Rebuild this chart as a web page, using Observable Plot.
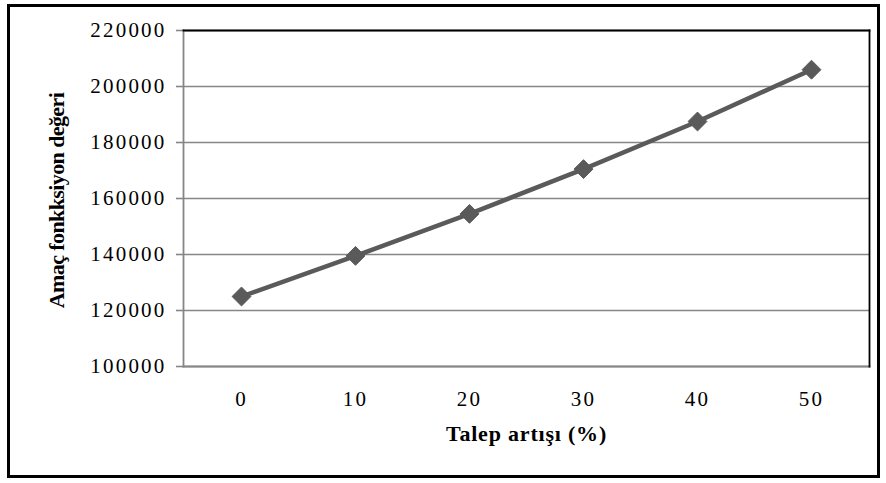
<!DOCTYPE html>
<html>
<head>
<meta charset="utf-8">
<script src="https://cdn.jsdelivr.net/npm/d3@7"></script>
<script src="https://cdn.jsdelivr.net/npm/@observablehq/plot@0.6"></script>
<style>
  html, body { margin: 0; padding: 0; background: #fff; }
  #wrap { position: relative; width: 886px; height: 483px; }
  #border { position: absolute; left: 7px; top: 4px; width: 867px; height: 468px; border: 3px solid #000; pointer-events: none; }
  #chart svg text { letter-spacing: 2.2px; }
  #chart svg .xtitle text { letter-spacing: 0.8px; }
  #chart svg .ytitle text { letter-spacing: -0.6px; }
</style>
</head>
<body>
<div id="wrap">
  <div id="chart"></div>
  <div id="border"></div>
</div>
<script>
// Demand increase (%) vs. objective function value
const increases = ["0", "10", "20", "30", "40", "50"];
const objective = [125000, 139500, 154500, 170500, 187500, 206000];
const yTicks = [100000, 120000, 140000, 160000, 180000, 200000, 220000];
const xTitle = "Talep artışı (%)";
const yTitle = "Amaç fonkksiyon değeri";

const data = increases.map((x, i) => ({x, y: objective[i]}));

const chart = Plot.plot({
  width: 886,
  height: 483,
  marginLeft: 183,
  marginRight: 17,
  marginTop: 30,
  marginBottom: 117,
  style: {fontFamily: "'Liberation Serif', 'Times New Roman', serif", fontSize: "21px", color: "#000", background: "#fff"},
  x: {type: "point", domain: increases, padding: 0.5},
  y: {domain: [100000, 220000]},
  marks: [
    Plot.gridY(yTicks, {stroke: "#868686", strokeOpacity: 1, strokeWidth: 1.6}),
    Plot.axisY(yTicks, {tickSize: 7, tickPadding: 10, stroke: "#868686", strokeWidth: 1.6, label: null, tickFormat: d => String(d)}),
    Plot.axisX({tickSize: 0, tickPadding: 25, label: null}),
    Plot.frame({anchor: "left", stroke: "#868686", strokeWidth: 1.8}),
    Plot.frame({anchor: "bottom", stroke: "#868686", strokeWidth: 1.8}),
    Plot.frame({anchor: "top", stroke: "#000", strokeWidth: 1.8}),
    Plot.frame({anchor: "right", stroke: "#000", strokeWidth: 1.8}),
    Plot.line(data, {x: "x", y: "y", stroke: "#5a5a5a", strokeWidth: 4.5}),
    Plot.dot(data, {x: "x", y: "y", symbol: "diamond2", r: 8.5, fill: "#5a5a5a", stroke: "#5a5a5a", strokeWidth: 1}),
    Plot.text([xTitle], {frameAnchor: "bottom", dy: 74, text: d => d, textAnchor: "middle", fontWeight: "bold", fontSize: 22, className: "xtitle"}),
    Plot.text([yTitle], {frameAnchor: "left", dx: -127, dy: 2, rotate: -90, text: d => d, textAnchor: "middle", fontWeight: "bold", fontSize: 22, className: "ytitle"})
  ]
});
document.getElementById("chart").append(chart);
</script>
</body>
</html>
